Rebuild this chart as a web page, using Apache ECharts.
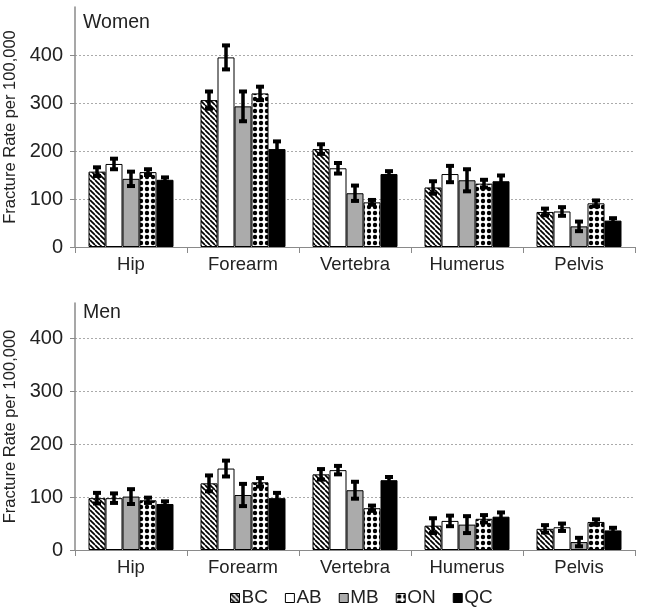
<!DOCTYPE html>
<html>
<head>
<meta charset="utf-8">
<script src="https://cdn.jsdelivr.net/npm/echarts@6/dist/echarts.min.js"></script>
<style>html,body{margin:0;padding:0;background:#fff}#c{width:645px;height:612px}</style>
</head>
<body>
<div id="c"></div>
<script>
const categories = ['Hip', 'Forearm', 'Vertebra', 'Humerus', 'Pelvis'];
const seriesNames = ['BC', 'AB', 'MB', 'ON', 'QC'];
const yTicks = [0, 100, 200, 300, 400];

// Women: rates and error half-widths
const womenBC = [157, 306, 204, 124, 73];
const womenAB = [173, 395, 164, 152, 74];
const womenMB = [142, 293, 112, 139, 43];
const womenON = [156, 320, 93, 132, 91];
const womenQC = [140, 204, 152, 137, 55];
const womenErrBC = [9, 18, 10, 13, 7];
const womenErrAB = [11, 25, 11, 17, 9];
const womenErrMB = [15, 31, 16, 23, 10];
const womenErrON = [6, 14, 5, 8, 6];
const womenErrQC = [5, 16, 6, 12, 5];

// Men: rates and error half-widths
const menBC = [98, 126, 143, 46, 40];
const menAB = [98, 154, 151, 55, 43];
const menMB = [101, 104, 113, 48, 15];
const menON = [94, 128, 79, 59, 53];
const menQC = [87, 98, 132, 63, 37];
const menErrBC = [10, 15, 10, 14, 7];
const menErrAB = [9, 15, 8, 10, 7];
const menErrMB = [14, 21, 16, 16, 8];
const menErrON = [5, 8, 5, 7, 5];
const menErrQC = [5, 10, 6, 8, 5];

const women = [womenBC, womenAB, womenMB, womenON, womenQC];
const womenErr = [womenErrBC, womenErrAB, womenErrMB, womenErrON, womenErrQC];
const men = [menBC, menAB, menMB, menON, menQC];
const menErr = [menErrBC, menErrAB, menErrMB, menErrON, menErrQC];

function hatchPattern() {
  const s = 5, c = document.createElement('canvas');
  c.width = s; c.height = s;
  const g = c.getContext('2d');
  g.fillStyle = '#fff'; g.fillRect(0, 0, s, s);
  g.strokeStyle = '#000'; g.lineWidth = 1.7;
  for (const x0 of [-s, 0, s]) {
    g.beginPath(); g.moveTo(x0, 0); g.lineTo(x0 + s, s); g.stroke();
  }
  return c;
}
function dotPattern() {
  const s = 6, c = document.createElement('canvas');
  c.width = s; c.height = s;
  const g = c.getContext('2d');
  g.fillStyle = '#fff'; g.fillRect(0, 0, s, s);
  g.fillStyle = '#000';
  g.beginPath(); g.arc(s / 2, s / 2, 2.2, 0, Math.PI * 2); g.fill();
  return c;
}
const fills = [
  { image: hatchPattern(), repeat: 'repeat' },
  '#ffffff',
  '#ababab',
  { image: dotPattern(), repeat: 'repeat' },
  '#000000'
];

const FONT = "'Liberation Sans', Arial, sans-serif";
const BW = 17;

function xAxis(gi) {
  return {
    type: 'category', gridIndex: gi, data: categories,
    axisLine: { lineStyle: { color: '#8a8a8a', width: 1 } },
    axisTick: { show: true, length: 6, lineStyle: { color: '#8a8a8a' } },
    axisLabel: { fontSize: 18.5, color: '#222', fontFamily: FONT, margin: 8 }
  };
}
function yAxis(gi, max) {
  return {
    type: 'value', gridIndex: gi, min: 0, max: max, interval: 100,
    name: 'Fracture Rate per 100,000', nameLocation: 'middle', nameGap: 48,
    nameTextStyle: { fontSize: 16.5, color: '#222', fontFamily: FONT },
    axisLine: { show: true, lineStyle: { color: '#8a8a8a', width: 1.5 } },
    axisTick: { show: true, length: 5, lineStyle: { color: '#8a8a8a' } },
    axisLabel: { fontSize: 20, color: '#222', fontFamily: FONT, margin: 12, showMaxLabel: false,
      formatter: v => (yTicks.indexOf(v) >= 0 ? String(v) : '') },
    splitLine: { show: true, showMinLine: false, showMaxLine: false,
      lineStyle: { color: '#aaaaaa', type: [2, 2], width: 1 } }
  };
}

const series = [];
function addPanel(gi, vals, errs) {
  seriesNames.forEach((name, i) => {
    series.push({
      type: 'bar', name: name, xAxisIndex: gi, yAxisIndex: gi,
      data: vals[i], barWidth: BW, barGap: '0%',
      itemStyle: { color: fills[i], borderColor: '#000', borderWidth: 1 },
      emphasis: { disabled: true }, animation: false
    });
  });
  seriesNames.forEach((name, i) => {
    series.push({
      type: 'custom', name: name + ' err', xAxisIndex: gi, yAxisIndex: gi,
      data: vals[i].map((v, k) => [k, v, errs[i][k]]),
      z: 10, animation: false, silent: true, clip: false,
      renderItem: function (params, api) {
        const k = api.value(0), v = api.value(1), e = api.value(2);
        const top = api.coord([k, v + e]);
        const bot = api.coord([k, v - e]);
        const x = top[0] + (i - 2) * BW;
        return {
          type: 'group',
          children: [
            { type: 'line', shape: { x1: x, y1: top[1], x2: x, y2: bot[1] }, style: { stroke: '#000', lineWidth: 3.5 } },
            { type: 'rect', shape: { x: x - 4, y: top[1] - 2, width: 8, height: 4 }, style: { fill: '#000' } },
            { type: 'rect', shape: { x: x - 4, y: bot[1] - 2, width: 8, height: 4 }, style: { fill: '#000' } }
          ]
        };
      }
    });
  });
}
addPanel(0, women, womenErr);
addPanel(1, men, menErr);

const chart = echarts.init(document.getElementById('c'), null, { renderer: 'canvas' });
chart.setOption({
  animation: false,
  backgroundColor: '#fff',
  textStyle: { fontFamily: FONT },
  title: [
    { text: 'Women', left: 78, top: 8, textStyle: { fontSize: 19.5, fontWeight: 'normal', color: '#222', fontFamily: FONT } },
    { text: 'Men', left: 78, top: 298, textStyle: { fontSize: 19.5, fontWeight: 'normal', color: '#222', fontFamily: FONT } }
  ],
  grid: [
    { left: 75, right: 10, top: 7, height: 240, containLabel: false, outerBoundsMode: 'none' },
    { left: 75, right: 10, top: 303, height: 247, containLabel: false, outerBoundsMode: 'none' }
  ],
  xAxis: [xAxis(0), xAxis(1)],
  yAxis: [yAxis(0, 500), yAxis(1, 467)],
  legend: {
    data: seriesNames, top: 582, left: 225, itemWidth: 9, itemHeight: 9, itemGap: 17,
    icon: 'rect',
    itemStyle: { borderColor: '#000', borderWidth: 1 },
    textStyle: { fontSize: 19, lineHeight: 22, color: '#222', fontFamily: FONT, padding: [0, 0, 0, -3] },
    selectedMode: false
  },
  series: series
});
</script>
</body>
</html>
